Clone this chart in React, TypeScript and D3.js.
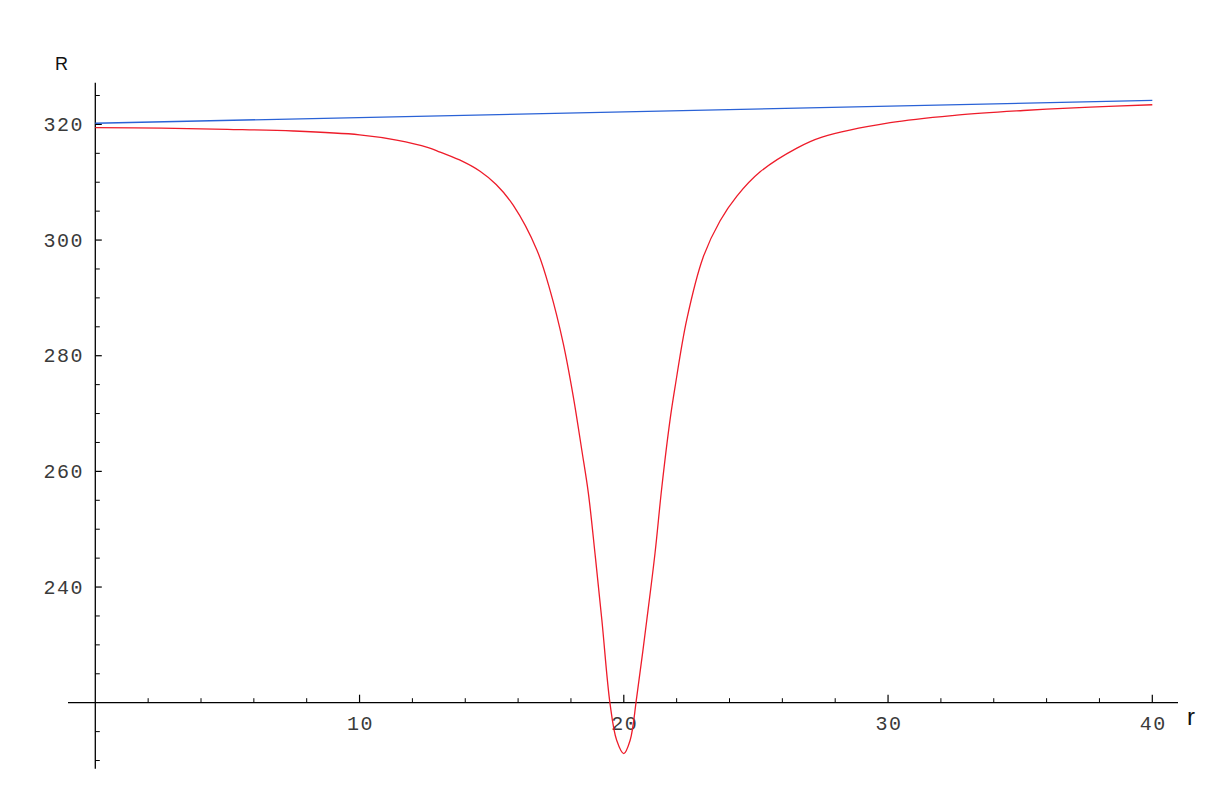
import React, { useRef, useEffect } from "react";
import * as d3 from "d3";

// r values (x) and R values (y)
const rVals = [0, 2.5, 5, 7.5, 10, 11.4, 12.6, 13.05, 13.9, 14.56, 15.17, 15.82, 16.71, 17.21, 17.71, 18.09, 18.41, 18.66, 18.91, 19.17, 19.48, 19.73, 20, 20.24, 20.49, 20.87, 21.18, 21.44, 21.75, 21.94, 22.38, 23.0, 23.64, 24.28, 25.16, 26.55, 27.5, 30.08, 32.6, 35.12, 37.65, 40];
const redR = [319.43, 319.35, 319.15, 318.86, 318.2, 317.3, 316.0, 315.2, 313.6, 311.9, 309.6, 306.0, 298.3, 291.3, 282.1, 272.9, 263.7, 256.2, 245.8, 234.3, 219.8, 213.5, 211.2, 213.5, 221, 234.3, 245.8, 257.3, 268.9, 274.6, 286.2, 297.0, 303.3, 307.6, 311.8, 315.9, 317.8, 320.3, 321.6, 322.4, 323.0, 323.4];

const blueR = [0, 40];
const blueVals = [320.2, 324.15];

const xMajor = [10, 20, 30, 40];
const xMinor = [2, 4, 6, 8, 12, 14, 16, 18, 22, 24, 26, 28, 32, 34, 36, 38];
const yMajor = [240, 260, 280, 300, 320];
const yMinor = [210, 215, 225, 230, 235, 245, 250, 255, 265, 270, 275, 285, 290, 295, 305, 310, 315, 325];

const App = () => {
  const svgRef = useRef<SVGSVGElement | null>(null);

  useEffect(() => {
    const svg = d3.select(svgRef.current);
    svg.selectAll("*").remove();

    const x = d3.scaleLinear().domain([0, 40]).range([95.3, 1152.3]);
    const y = d3.scaleLinear().domain([220, 320]).range([702.7, 124.4]);

    const x0 = x(0);
    const y0 = y(220);

    // axes lines
    svg.append("line")
      .attr("x1", 68).attr("x2", 1178)
      .attr("y1", y0).attr("y2", y0)
      .attr("stroke", "#000").attr("stroke-width", 1.3);
    svg.append("line")
      .attr("x1", x0).attr("x2", x0)
      .attr("y1", y(327.2)).attr("y2", y(208.6))
      .attr("stroke", "#000").attr("stroke-width", 1.3);

    // x ticks (point up)
    svg.selectAll(".xmaj").data(xMajor).enter().append("line")
      .attr("x1", d => x(d)).attr("x2", d => x(d))
      .attr("y1", y0).attr("y2", y0 - 8)
      .attr("stroke", "#000").attr("stroke-width", 1.2);
    svg.selectAll(".xmin").data(xMinor).enter().append("line")
      .attr("x1", d => x(d)).attr("x2", d => x(d))
      .attr("y1", y0).attr("y2", y0 - 4.5)
      .attr("stroke", "#000").attr("stroke-width", 1);

    // y ticks (point right)
    svg.selectAll(".ymaj").data(yMajor).enter().append("line")
      .attr("x1", x0).attr("x2", x0 + 6.5)
      .attr("y1", d => y(d)).attr("y2", d => y(d))
      .attr("stroke", "#000").attr("stroke-width", 1.2);
    svg.selectAll(".ymin").data(yMinor).enter().append("line")
      .attr("x1", x0).attr("x2", x0 + 4.5)
      .attr("y1", d => y(d)).attr("y2", d => y(d))
      .attr("stroke", "#000").attr("stroke-width", 1);

    // tick labels
    svg.selectAll(".xl").data(xMajor).enter().append("text")
      .attr("x", d => x(d) + 1)
      .attr("y", 730)
      .attr("text-anchor", "middle")
      .style("font-family", "'Liberation Mono', monospace")
      .style("font-size", "20px")
      .style("letter-spacing", "1.5px")
      .attr("fill", "#3a3a3a")
      .text(d => d);
    svg.selectAll(".yl").data(yMajor).enter().append("text")
      .attr("x", 84)
      .attr("y", d => y(d) + 6.5)
      .attr("text-anchor", "end")
      .style("font-family", "'Liberation Mono', monospace")
      .style("font-size", "20px")
      .style("letter-spacing", "1.5px")
      .attr("fill", "#3a3a3a")
      .text(d => d);

    // axis names
    svg.append("text")
      .attr("x", 55).attr("y", 70)
      .style("font-family", "'Liberation Sans', Arial, sans-serif")
      .style("font-size", "18px")
      .attr("fill", "#111")
      .text("R");
    svg.append("text")
      .attr("x", 1187).attr("y", 725)
      .style("font-family", "'Liberation Sans', Arial, sans-serif")
      .style("font-size", "24px")
      .attr("fill", "#111")
      .text("r");

    // blue line
    const blueLine = d3.line<number>()
      .x((d, i) => x(blueR[i]))
      .y(d => y(d));
    svg.append("path")
      .attr("d", blueLine(blueVals))
      .attr("fill", "none")
      .attr("stroke", "#2a62d6")
      .attr("stroke-width", 1.3);

    // red curve
    const redLine = d3.line<number>()
      .x((d, i) => x(rVals[i]))
      .y(d => y(d))
      .curve(d3.curveCatmullRom.alpha(0.5));
    svg.append("path")
      .attr("d", redLine(redR))
      .attr("fill", "none")
      .attr("stroke", "#ee1c2a")
      .attr("stroke-width", 1.3);
  }, []);

  return (
    <svg
      ref={svgRef}
      width={1231}
      height={785}
      style={{ position: "absolute", left: 0, top: 0, background: "#fff" }}
    ></svg>
  );
};

export default App;
